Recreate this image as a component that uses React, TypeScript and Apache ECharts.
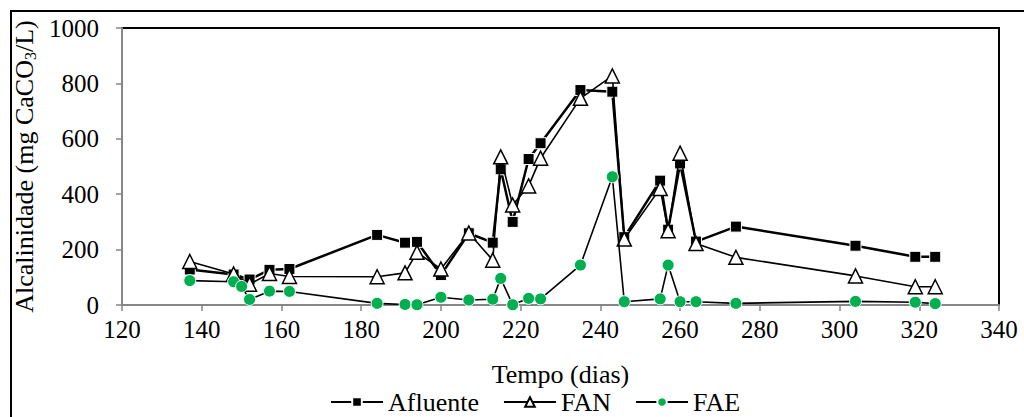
import React, { useEffect, useRef } from "react";
import * as echarts from "echarts";

const xTicks = { min: 120, max: 340, interval: 20 };
const yTicks = { min: 0, max: 1000, interval: 200 };

const afluente: [number, number][] = [
  [137, 128], [148, 110], [152, 92], [157, 127], [162, 130], [184, 253], [191, 225],
  [194, 228], [200, 108], [207, 259], [213, 225], [215, 490], [218, 300], [222, 527],
  [225, 584], [235, 776], [243, 770], [246, 245], [255, 449], [257, 272], [260, 511],
  [264, 229], [274, 283], [304, 214], [319, 174], [324, 174],
];
const fan: [number, number][] = [
  [137, 157], [148, 112], [152, 75], [157, 114], [162, 103], [184, 102], [191, 116],
  [194, 190], [200, 130], [207, 260], [213, 162], [215, 535], [218, 361], [222, 430],
  [225, 530], [235, 746], [243, 827], [246, 238], [255, 421], [257, 268], [260, 548],
  [264, 222], [274, 172], [304, 105], [319, 66], [324, 66],
];
const fae: [number, number][] = [
  [137, 88], [148, 84], [150, 67], [152, 20], [157, 50], [162, 49], [184, 6], [191, 2],
  [194, 1], [200, 28], [207, 18], [213, 21], [215, 96], [218, 1], [222, 24], [225, 22],
  [235, 144], [243, 463], [246, 12], [255, 22], [257, 144], [260, 12], [264, 12],
  [274, 6], [304, 13], [319, 10], [324, 5],
];

const FONT = "Liberation Serif";
const FS = 25;
const FN = 26;

export default function App() {
  const ref = useRef<HTMLDivElement>(null);
  useEffect(() => {
    if (!ref.current) return;
    const chart = echarts.init(ref.current, null, { renderer: "svg" });
    chart.setOption({
      animation: false,
      backgroundColor: "#fff",
      textStyle: { fontFamily: FONT, color: "#000", fontSize: FS },
      graphic: [
        {
          type: "rect",
          shape: { x: 11, y: 11, width: 1100, height: 500 },
          style: { fill: "none", stroke: "#000", lineWidth: 2 },
          silent: true,
        },
      ],
      grid: {
        left: 122,
        right: 25,
        top: 28,
        bottom: 112,
        show: true,
        borderColor: "#000",
        borderWidth: 2,
      },
      legend: {
        top: 384,
        left: 325,
        itemWidth: 52,
        itemHeight: 12,
        itemGap: 24,
        textStyle: { fontFamily: FONT, fontSize: FN, color: "#000" },
        data: ["Afluente", "FAN", "FAE"],
      },
      xAxis: {
        type: "value",
        min: xTicks.min,
        max: xTicks.max,
        interval: xTicks.interval,
        name: "Tempo (dias)",
        nameLocation: "middle",
        nameGap: 56,
        nameTextStyle: { fontFamily: FONT, fontSize: FN, color: "#000" },
        splitLine: { show: false },
        axisLine: { lineStyle: { color: "#868686", width: 2 } },
        axisTick: { show: true, length: 6, lineStyle: { color: "#868686", width: 1.5 } },
        axisLabel: { fontFamily: FONT, fontSize: FS, color: "#000", margin: 12, formatter: (v: number) => String(v) },
      },
      yAxis: {
        type: "value",
        min: yTicks.min,
        max: yTicks.max,
        interval: yTicks.interval,
        name: "{a|Alcalinidade (mg CaCO}{s|3}{a|/L)}",
        nameLocation: "middle",
        nameGap: 64,
        nameTextStyle: {
          fontFamily: FONT,
          rich: {
            a: { fontFamily: FONT, fontSize: FN, color: "#000", lineHeight: 28 },
            s: { fontFamily: FONT, fontSize: 16, color: "#000", verticalAlign: "bottom", lineHeight: 28 },
          },
        },
        splitLine: { show: false },
        axisLine: { show: true, lineStyle: { color: "#868686", width: 2 } },
        axisTick: { show: true, length: 6, lineStyle: { color: "#868686", width: 1.5 } },
        axisLabel: { fontFamily: FONT, fontSize: FS, color: "#000", margin: 23, formatter: (v: number) => String(v) },
      },
      series: [
        {
          name: "Afluente",
          type: "line",
          data: afluente,
          symbol: "rect",
          symbolSize: 11,
          lineStyle: { color: "#000", width: 2.5 },
          itemStyle: { color: "#000", borderColor: "#fff", borderWidth: 1 },
          z: 2,
        },
        {
          name: "FAN",
          type: "line",
          data: fan,
          symbol: "triangle",
          symbolSize: 14,
          lineStyle: { color: "#000", width: 1.6 },
          itemStyle: { color: "#fff", borderColor: "#000", borderWidth: 1.5 },
          z: 3,
        },
        {
          name: "FAE",
          type: "line",
          data: fae,
          symbol: "circle",
          symbolSize: 12,
          lineStyle: { color: "#000", width: 1.6 },
          itemStyle: { color: "#00B050", borderColor: "#fff", borderWidth: 1 },
          z: 4,
        },
      ],
    });
    return () => chart.dispose();
  }, []);
  return (
    <div
      ref={ref}
      style={{ position: "fixed", left: 0, top: 0, width: 1024, height: 417 }}
    />
  );
}
